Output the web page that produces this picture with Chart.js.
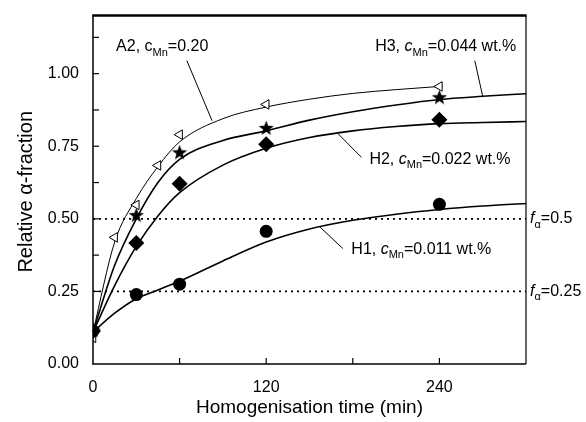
<!DOCTYPE html>
<html><head><meta charset="utf-8">
<script src="https://cdn.jsdelivr.net/npm/chart.js@4.4.0/dist/chart.umd.min.js"></script>
<style>html,body{margin:0;padding:0;background:#fff;}</style>
</head><body>
<canvas id="c" width="586" height="422"></canvas>
<script>
// ---- data ----
const sampleTimes = [0, 30, 60, 120, 240];          // min
const a2Times     = [0, 15, 30, 45, 60, 120, 240];   // min
const a2Values    = [0.09, 0.436, 0.548, 0.684, 0.79, 0.894, 0.956];
const h3Values    = [0.114, 0.511, 0.727, 0.811, 0.917];
const h2Values    = [0.114, 0.417, 0.621, 0.757, 0.841];
const h1Values    = [0.114, 0.239, 0.275, 0.457, 0.55];

const fitTimes = [0, 15, 30, 45, 60, 90, 120, 150, 180, 210, 240, 270, 300];
const a2Fit = [0.11, 0.42, 0.57, 0.68, 0.765, 0.845, 0.885, 0.912, 0.932, 0.945, 0.956];
const h3Fit = [0.11, 0.34, 0.50, 0.625, 0.705, 0.77, 0.803, 0.84, 0.869, 0.892, 0.911, 0.922, 0.931];
const h2Fit = [0.11, 0.27, 0.405, 0.51, 0.59, 0.685, 0.743, 0.78, 0.803, 0.818, 0.828, 0.832, 0.835];
const h1Fit = [0.11, 0.175, 0.225, 0.255, 0.285, 0.355, 0.42, 0.465, 0.495, 0.516, 0.532, 0.544, 0.553];

const fractionLevels = [0.5, 0.25];
const fractionLabels = ['0.5', '0.25'];
const xTickLabels = [0, 120, 240];

const FONT = '"Liberation Sans", Arial, Helvetica, sans-serif';

function pts(xs, ys) { return ys.map((y, i) => ({x: xs[i], y})); }

// filled five-pointed star marker
function makeStar(size, outer, inner) {
  const cv = document.createElement('canvas');
  cv.width = size; cv.height = size;
  const g = cv.getContext('2d');
  const c = size / 2;
  g.beginPath();
  for (let i = 0; i < 10; i++) {
    const r = i % 2 === 0 ? outer : inner;
    const a = -Math.PI / 2 + i * Math.PI / 5;
    const px = c + r * Math.cos(a), py = c + r * Math.sin(a);
    if (i === 0) g.moveTo(px, py); else g.lineTo(px, py);
  }
  g.closePath();
  g.fillStyle = '#000';
  g.fill();
  return cv;
}
const starImg = makeStar(17, 8, 3.3);

function richText(ctx, x, y, parts) {
  let cx = x;
  ctx.textBaseline = 'middle';
  ctx.textAlign = 'left';
  for (const [t, s] of parts) {
    if (s === 'sub') { ctx.font = `11px ${FONT}`; ctx.fillText(t, cx, y + 6); }
    else { ctx.font = `${s === 'i' ? 'italic ' : ''}16px ${FONT}`; ctx.fillText(t, cx, y); }
    cx += ctx.measureText(t).width;
  }
}

const annotations = [
  {text: [['A2, ', 'n'], ['c', 'n'], ['Mn', 'sub'], ['=0.20', 'n']], at: [16, 1.093], lead: [[65, 1.045], [82.5, 0.838]]},
  {text: [['H3, ', 'n'], ['c', 'i'], ['Mn', 'sub'], ['=0.044 wt.%', 'n']], at: [195.5, 1.093], lead: [[264.5, 1.045], [270, 0.922]]},
  {text: [['H2, ', 'n'], ['c', 'i'], ['Mn', 'sub'], ['=0.022 wt.%', 'n']], at: [191.5, 0.705], lead: [[170, 0.792], [186, 0.712]]},
  {text: [['H1, ', 'n'], ['c', 'i'], ['Mn', 'sub'], ['=0.011 wt.%', 'n']], at: [179, 0.395], lead: [[157, 0.473], [173, 0.398]]}
];

const decor = {
  id: 'decor',
  afterDraw(chart) {
    const ctx = chart.ctx, a = chart.chartArea;
    const xs = chart.scales.x, ys = chart.scales.y;
    ctx.save();
    ctx.strokeStyle = '#000'; ctx.fillStyle = '#000';
    const seg = (x1, y1, x2, y2, w) => { ctx.lineWidth = w; ctx.beginPath(); ctx.moveTo(x1, y1); ctx.lineTo(x2, y2); ctx.stroke(); };
    // frame
    seg(a.left, a.top, a.left, a.bottom + 0.5, 1.5);
    seg(a.left - 0.5, a.bottom, a.right, a.bottom, 1.5);
    seg(a.right, a.top, a.right, a.bottom, 1.2);
    seg(a.left - 0.75, a.top, a.right + 0.6, a.top, 2.5);
    // inward ticks
    xs.ticks.forEach(t => {
      if (t.value <= xs.min || t.value >= xs.max) return;
      const p = xs.getPixelForValue(t.value);
      seg(p, a.bottom, p, a.bottom - 6, 1.2);
    });
    ys.ticks.forEach(t => {
      if (t.value <= ys.min || t.value >= ys.max) return;
      const r = t.value / 0.125;
      if (Math.abs(r - Math.round(r)) > 1e-6) return;
      const p = ys.getPixelForValue(t.value);
      seg(a.left, p, a.left + 6, p, 1.2);
    });
    // annotations
    annotations.forEach(an => {
      const [p0, p1] = an.lead;
      seg(xs.getPixelForValue(p0[0]), ys.getPixelForValue(p0[1]), xs.getPixelForValue(p1[0]), ys.getPixelForValue(p1[1]), 1);
      richText(ctx, xs.getPixelForValue(an.at[0]), ys.getPixelForValue(an.at[1]), an.text);
    });
    fractionLevels.forEach((lv, i) => {
      richText(ctx, a.right + 4, ys.getPixelForValue(lv), [['f', 'i'], ['\u03b1', 'sub'], ['=' + fractionLabels[i], 'n']]);
    });
    // axis titles
    ctx.textAlign = 'center'; ctx.textBaseline = 'middle';
    ctx.font = `19px ${FONT}`;
    ctx.fillText('Homogenisation time (min)', (a.left + a.right) / 2, 408);
    ctx.font = `20px ${FONT}`;
    ctx.translate(26, (a.top + a.bottom) / 2 + 2);
    ctx.rotate(-Math.PI / 2);
    ctx.fillText('Relative \u03b1-fraction', 0, 0);
    ctx.restore();
  }
};

const lineDs = (data, w) => ({
  type: 'line', data, borderColor: '#000', borderWidth: w, pointRadius: 0,
  cubicInterpolationMode: 'monotone', fill: false, clip: false
});

new Chart(document.getElementById('c'), {
  type: 'scatter',
  data: {
    datasets: [
      {data: pts(sampleTimes, h1Values), pointStyle: 'circle', pointRadius: 6.5, backgroundColor: '#000', borderColor: '#000', borderWidth: 0},
      {data: pts(sampleTimes, h2Values), pointStyle: 'rectRot', pointRadius: 8, backgroundColor: '#000', borderColor: '#000', borderWidth: 0},
      {data: pts(sampleTimes, h3Values), pointStyle: starImg, pointRadius: 8},
      {data: pts(a2Times, a2Values), pointStyle: 'triangle', rotation: -90, pointRadius: 5.5, backgroundColor: '#fff', borderColor: '#000', borderWidth: 1},
      lineDs(pts(fitTimes, a2Fit), 1),
      lineDs(pts(fitTimes, h3Fit), 1.6),
      lineDs(pts(fitTimes, h2Fit), 1.6),
      lineDs(pts(fitTimes, h1Fit), 1.6),
      ...fractionLevels.map(lv => ({type: 'line', data: [{x: 0, y: lv}, {x: 300, y: lv}], borderColor: '#000', borderWidth: 1.6, borderDash: [2, 4], pointRadius: 0, fill: false}))
    ]
  },
  options: {
    responsive: false, animation: false, devicePixelRatio: 1,
    layout: {padding: {left: 0, right: 60, top: 11, bottom: 0}},
    plugins: {legend: {display: false}, tooltip: {enabled: false}},
    scales: {
      x: {
        type: 'linear', min: 0, max: 300,
        grid: {display: false}, border: {display: false},
        ticks: {stepSize: 60, color: '#000', font: {family: FONT, size: 16}, padding: 6, maxRotation: 0,
          callback: v => xTickLabels.includes(v) ? String(v) : ''},
        afterFit: s => { s.height = 58; }
      },
      y: {
        min: 0, max: 1.2,
        grid: {display: false}, border: {display: false},
        ticks: {stepSize: 0.125, color: '#000', font: {family: FONT, size: 16}, padding: 6,
          callback: v => { const r = v / 0.25; return Math.abs(r - Math.round(r)) < 1e-6 ? v.toFixed(2) : ''; }},
        afterFit: s => { s.width = 93; }
      }
    }
  },
  plugins: [decor]
});
</script>
</body></html>
